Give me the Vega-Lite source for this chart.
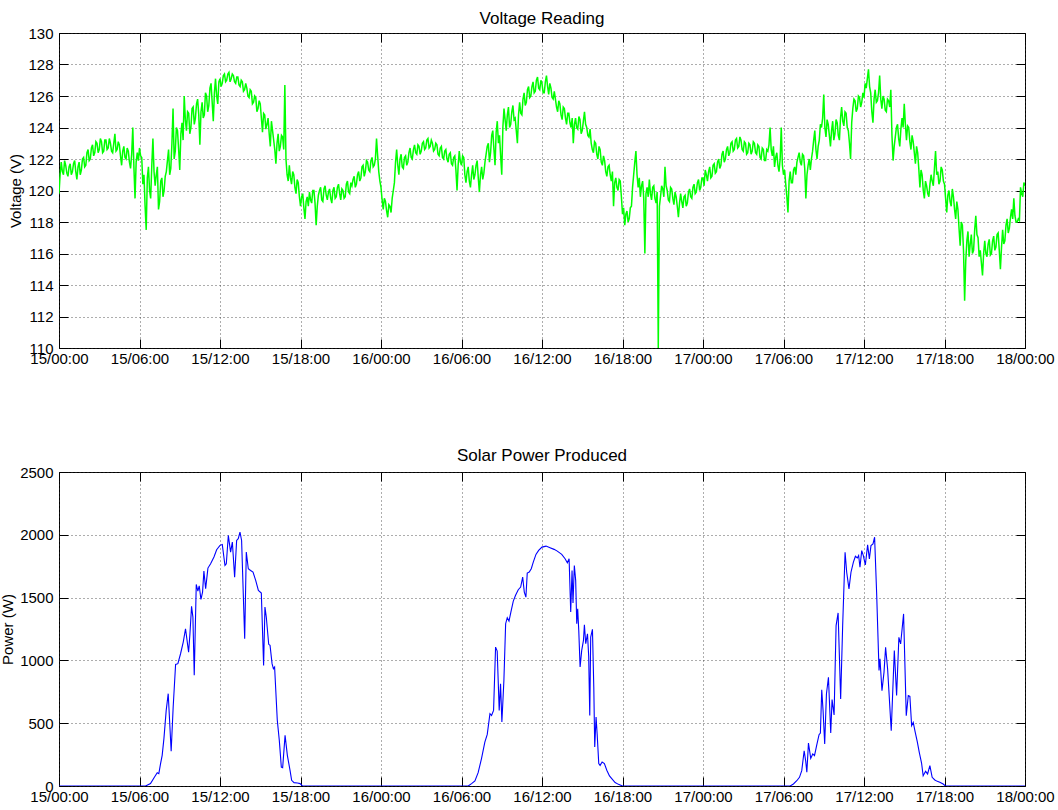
{
  "$schema": "https://vega.github.io/schema/vega-lite/v6.json",
  "padding": {"left": 0, "top": 9, "right": 5, "bottom": 0},
  "background": "white",
  "config": {
    "font": "Liberation Sans",
    "view": {"stroke": "black", "strokeWidth": 1},
    "axis": {
      "labelFont": "Liberation Sans", "labelFontSize": 15, "labelColor": "black",
      "titleFont": "Liberation Sans", "titleFontSize": 15, "titleFontWeight": "normal", "titleColor": "black",
      "domain": false, "tickColor": "black", "tickSize": -9, "tickWidth": 1,
      "gridColor": "#333333", "gridOpacity": 0.8, "gridDash": [1, 3], "gridWidth": 1
    },
    "title": {"font": "Liberation Sans", "fontSize": 17, "fontWeight": "normal", "color": "black"},
    "concat": {"spacing": 79}
  },
  "datasets": {
    "voltage": [
      {"hour":0,"volts":119.8},{"hour":0.083,"volts":121.0},{"hour":0.167,"volts":121.8},{"hour":0.25,"volts":121.2},{"hour":0.333,"volts":121.0},{"hour":0.417,"volts":121.9},{"hour":0.5,"volts":121.6},{"hour":0.583,"volts":121.1},{"hour":0.667,"volts":120.9},{"hour":0.75,"volts":121.5},{"hour":0.833,"volts":121.7},{"hour":0.917,"volts":121.0},
      {"hour":1,"volts":121.2},{"hour":1.083,"volts":121.7},{"hour":1.167,"volts":121.9},{"hour":1.25,"volts":121.2},{"hour":1.333,"volts":120.7},{"hour":1.417,"volts":121.5},{"hour":1.5,"volts":121.8},{"hour":1.583,"volts":121.0},{"hour":1.667,"volts":121.3},{"hour":1.75,"volts":122.0},{"hour":1.833,"volts":122.1},{"hour":1.917,"volts":121.5},
      {"hour":2,"volts":121.6},{"hour":2.083,"volts":122.4},{"hour":2.167,"volts":122.6},{"hour":2.25,"volts":121.9},{"hour":2.333,"volts":122.0},{"hour":2.417,"volts":122.7},{"hour":2.5,"volts":122.9},{"hour":2.583,"volts":122.2},{"hour":2.667,"volts":122.4},{"hour":2.75,"volts":123.1},{"hour":2.833,"volts":123.0},{"hour":2.917,"volts":122.4},
      {"hour":3,"volts":122.6},{"hour":3.083,"volts":123.3},{"hour":3.167,"volts":123.1},{"hour":3.25,"volts":122.4},{"hour":3.333,"volts":122.5},{"hour":3.417,"volts":123.2},{"hour":3.5,"volts":123.2},{"hour":3.583,"volts":122.6},{"hour":3.667,"volts":122.7},{"hour":3.75,"volts":123.3},{"hour":3.833,"volts":123.0},{"hour":3.917,"volts":122.5},
      {"hour":4,"volts":122.4},{"hour":4.083,"volts":123.0},{"hour":4.167,"volts":123.6},{"hour":4.25,"volts":122.5},{"hour":4.333,"volts":122.6},{"hour":4.417,"volts":123.1},{"hour":4.5,"volts":122.9},{"hour":4.583,"volts":122.2},{"hour":4.667,"volts":121.6},{"hour":4.75,"volts":122.5},{"hour":4.833,"volts":122.8},{"hour":4.917,"volts":122.1},
      {"hour":5,"volts":122.0},{"hour":5.083,"volts":122.7},{"hour":5.167,"volts":122.5},{"hour":5.25,"volts":121.8},{"hour":5.333,"volts":121.4},{"hour":5.417,"volts":122.3},{"hour":5.5,"volts":124.0},{"hour":5.583,"volts":121.5},{"hour":5.667,"volts":119.5},{"hour":5.75,"volts":121.8},{"hour":5.833,"volts":122.4},{"hour":5.917,"volts":121.9},
      {"hour":6,"volts":122.7},{"hour":6.083,"volts":122.2},{"hour":6.167,"volts":122.1},{"hour":6.25,"volts":120.4},{"hour":6.333,"volts":121.0},{"hour":6.417,"volts":119.0},{"hour":6.5,"volts":117.5},{"hour":6.583,"volts":120.8},{"hour":6.667,"volts":121.5},{"hour":6.75,"volts":120.0},{"hour":6.833,"volts":119.5},{"hour":6.917,"volts":121.6},
      {"hour":7,"volts":123.3},{"hour":7.083,"volts":121.2},{"hour":7.167,"volts":120.3},{"hour":7.25,"volts":121.0},{"hour":7.333,"volts":121.5},{"hour":7.417,"volts":118.8},{"hour":7.5,"volts":119.3},{"hour":7.583,"volts":120.6},{"hour":7.667,"volts":120.8},{"hour":7.75,"volts":119.6},{"hour":7.833,"volts":120.0},{"hour":7.917,"volts":120.9},
      {"hour":8,"volts":121.2},{"hour":8.083,"volts":121.9},{"hour":8.167,"volts":122.6},{"hour":8.25,"volts":121.0},{"hour":8.333,"volts":121.4},{"hour":8.417,"volts":123.0},{"hour":8.5,"volts":125.2},{"hour":8.583,"volts":122.0},{"hour":8.667,"volts":122.5},{"hour":8.75,"volts":124.0},{"hour":8.833,"volts":123.8},{"hour":8.917,"volts":122.6},
      {"hour":9,"volts":121.3},{"hour":9.083,"volts":123.6},{"hour":9.167,"volts":124.3},{"hour":9.25,"volts":123.2},{"hour":9.333,"volts":126.0},{"hour":9.417,"volts":124.5},{"hour":9.5,"volts":123.8},{"hour":9.583,"volts":125.0},{"hour":9.667,"volts":124.9},{"hour":9.75,"volts":123.6},{"hour":9.833,"volts":124.0},{"hour":9.917,"volts":125.2},
      {"hour":10,"volts":125.3},{"hour":10.083,"volts":124.2},{"hour":10.167,"volts":124.6},{"hour":10.25,"volts":125.5},{"hour":10.333,"volts":125.8},{"hour":10.417,"volts":124.8},{"hour":10.5,"volts":122.9},{"hour":10.583,"volts":125.0},{"hour":10.667,"volts":125.6},{"hour":10.75,"volts":124.6},{"hour":10.833,"volts":124.8},{"hour":10.917,"volts":126.2},
      {"hour":11,"volts":126.0},{"hour":11.083,"volts":125.0},{"hour":11.167,"volts":125.4},{"hour":11.25,"volts":126.5},{"hour":11.333,"volts":126.8},{"hour":11.417,"volts":125.6},{"hour":11.5,"volts":124.4},{"hour":11.583,"volts":126.2},{"hour":11.667,"volts":127.1},{"hour":11.75,"volts":126.0},{"hour":11.833,"volts":125.5},{"hour":11.917,"volts":126.9},
      {"hour":12,"volts":127.1},{"hour":12.083,"volts":126.6},{"hour":12.167,"volts":126.8},{"hour":12.25,"volts":127.3},{"hour":12.333,"volts":127.4},{"hour":12.417,"volts":126.9},{"hour":12.5,"volts":127.0},{"hour":12.583,"volts":127.4},{"hour":12.667,"volts":127.5},{"hour":12.75,"volts":126.9},{"hour":12.833,"volts":127.1},{"hour":12.917,"volts":127.4},
      {"hour":13,"volts":127.3},{"hour":13.083,"volts":126.9},{"hour":13.167,"volts":126.8},{"hour":13.25,"volts":127.2},{"hour":13.333,"volts":127.2},{"hour":13.417,"volts":126.7},{"hour":13.5,"volts":126.6},{"hour":13.583,"volts":127.0},{"hour":13.667,"volts":126.9},{"hour":13.75,"volts":126.3},{"hour":13.833,"volts":126.4},{"hour":13.917,"volts":126.8},
      {"hour":14,"volts":126.5},{"hour":14.083,"volts":126.0},{"hour":14.167,"volts":125.9},{"hour":14.25,"volts":126.4},{"hour":14.333,"volts":126.3},{"hour":14.417,"volts":125.5},{"hour":14.5,"volts":125.6},{"hour":14.583,"volts":126.0},{"hour":14.667,"volts":125.9},{"hour":14.75,"volts":125.0},{"hour":14.833,"volts":125.2},{"hour":14.917,"volts":125.7},
      {"hour":15,"volts":125.5},{"hour":15.083,"volts":124.6},{"hour":15.167,"volts":123.7},{"hour":15.25,"volts":124.9},{"hour":15.333,"volts":124.8},{"hour":15.417,"volts":123.9},{"hour":15.5,"volts":124.2},{"hour":15.583,"volts":124.6},{"hour":15.667,"volts":123.6},{"hour":15.75,"volts":122.8},{"hour":15.833,"volts":124.4},{"hour":15.917,"volts":123.8},
      {"hour":16,"volts":123.2},{"hour":16.083,"volts":122.6},{"hour":16.167,"volts":121.7},{"hour":16.25,"volts":123.0},{"hour":16.333,"volts":123.6},{"hour":16.417,"volts":122.5},{"hour":16.5,"volts":122.8},{"hour":16.583,"volts":123.5},{"hour":16.667,"volts":123.4},{"hour":16.75,"volts":122.6},{"hour":16.833,"volts":126.7},{"hour":16.917,"volts":122.0},
      {"hour":17,"volts":121.0},{"hour":17.083,"volts":120.6},{"hour":17.167,"volts":121.6},{"hour":17.25,"volts":120.8},{"hour":17.333,"volts":120.4},{"hour":17.417,"volts":121.2},{"hour":17.5,"volts":121.0},{"hour":17.583,"volts":120.2},{"hour":17.667,"volts":119.8},{"hour":17.75,"volts":120.7},{"hour":17.833,"volts":120.5},{"hour":17.917,"volts":119.6},
      {"hour":18,"volts":119.0},{"hour":18.083,"volts":119.6},{"hour":18.167,"volts":119.8},{"hour":18.25,"volts":118.9},{"hour":18.333,"volts":118.2},{"hour":18.417,"volts":119.3},{"hour":18.5,"volts":119.6},{"hour":18.583,"volts":119.0},{"hour":18.667,"volts":119.9},{"hour":18.75,"volts":119.4},{"hour":18.833,"volts":119.2},{"hour":18.917,"volts":120.0},
      {"hour":19,"volts":120.0},{"hour":19.083,"volts":119.2},{"hour":19.167,"volts":117.8},{"hour":19.25,"volts":119.0},{"hour":19.333,"volts":119.7},{"hour":19.417,"volts":120.0},{"hour":19.5,"volts":120.2},{"hour":19.583,"volts":119.4},{"hour":19.667,"volts":119.3},{"hour":19.75,"volts":120.1},{"hour":19.833,"volts":120.3},{"hour":19.917,"volts":119.7},
      {"hour":20,"volts":119.4},{"hour":20.083,"volts":119.9},{"hour":20.167,"volts":120.1},{"hour":20.25,"volts":119.5},{"hour":20.333,"volts":119.2},{"hour":20.417,"volts":120.0},{"hour":20.5,"volts":120.2},{"hour":20.583,"volts":119.5},{"hour":20.667,"volts":119.6},{"hour":20.75,"volts":120.2},{"hour":20.833,"volts":120.4},{"hour":20.917,"volts":119.8},
      {"hour":21,"volts":119.4},{"hour":21.083,"volts":120.1},{"hour":21.167,"volts":120.0},{"hour":21.25,"volts":119.5},{"hour":21.333,"volts":119.6},{"hour":21.417,"volts":120.4},{"hour":21.5,"volts":120.6},{"hour":21.583,"volts":119.9},{"hour":21.667,"volts":119.8},{"hour":21.75,"volts":120.5},{"hour":21.833,"volts":120.3},{"hour":21.917,"volts":120.7},
      {"hour":22,"volts":120.9},{"hour":22.083,"volts":120.2},{"hour":22.167,"volts":120.4},{"hour":22.25,"volts":121.0},{"hour":22.333,"volts":121.2},{"hour":22.417,"volts":120.6},{"hour":22.5,"volts":120.8},{"hour":22.583,"volts":121.5},{"hour":22.667,"volts":121.6},{"hour":22.75,"volts":120.9},{"hour":22.833,"volts":121.2},{"hour":22.917,"volts":121.9},
      {"hour":23,"volts":121.8},{"hour":23.083,"volts":121.3},{"hour":23.167,"volts":121.2},{"hour":23.25,"volts":121.9},{"hour":23.333,"volts":122.1},{"hour":23.417,"volts":121.5},{"hour":23.5,"volts":121.6},{"hour":23.583,"volts":122.0},{"hour":23.667,"volts":123.3},{"hour":23.75,"volts":122.2},{"hour":23.833,"volts":121.2},{"hour":23.917,"volts":120.6},
      {"hour":24,"volts":120.2},{"hour":24.083,"volts":119.4},{"hour":24.167,"volts":118.8},{"hour":24.25,"volts":119.5},{"hour":24.333,"volts":119.3},{"hour":24.417,"volts":118.7},{"hour":24.5,"volts":118.3},{"hour":24.583,"volts":119.1},{"hour":24.667,"volts":119.0},{"hour":24.75,"volts":118.6},{"hour":24.833,"volts":119.5},{"hour":24.917,"volts":120.0},
      {"hour":25,"volts":120.5},{"hour":25.083,"volts":121.8},{"hour":25.167,"volts":122.6},{"hour":25.25,"volts":121.6},{"hour":25.333,"volts":121.0},{"hour":25.417,"volts":122.0},{"hour":25.5,"volts":122.3},{"hour":25.583,"volts":121.5},{"hour":25.667,"volts":121.4},{"hour":25.75,"volts":122.1},{"hour":25.833,"volts":122.2},{"hour":25.917,"volts":121.6},
      {"hour":26,"volts":121.8},{"hour":26.083,"volts":122.4},{"hour":26.167,"volts":122.7},{"hour":26.25,"volts":122.1},{"hour":26.333,"volts":122.0},{"hour":26.417,"volts":122.6},{"hour":26.5,"volts":122.9},{"hour":26.583,"volts":122.4},{"hour":26.667,"volts":122.3},{"hour":26.75,"volts":122.9},{"hour":26.833,"volts":122.8},{"hour":26.917,"volts":122.3},
      {"hour":27,"volts":122.5},{"hour":27.083,"volts":123.0},{"hour":27.167,"volts":123.1},{"hour":27.25,"volts":122.6},{"hour":27.333,"volts":122.7},{"hour":27.417,"volts":123.2},{"hour":27.5,"volts":123.3},{"hour":27.583,"volts":122.7},{"hour":27.667,"volts":122.8},{"hour":27.75,"volts":123.2},{"hour":27.833,"volts":123.0},{"hour":27.917,"volts":122.5},
      {"hour":28,"volts":122.6},{"hour":28.083,"volts":123.0},{"hour":28.167,"volts":122.9},{"hour":28.25,"volts":122.3},{"hour":28.333,"volts":122.2},{"hour":28.417,"volts":122.7},{"hour":28.5,"volts":122.8},{"hour":28.583,"volts":122.1},{"hour":28.667,"volts":122.0},{"hour":28.75,"volts":122.5},{"hour":28.833,"volts":122.6},{"hour":28.917,"volts":122.0},
      {"hour":29,"volts":121.8},{"hour":29.083,"volts":122.3},{"hour":29.167,"volts":122.4},{"hour":29.25,"volts":121.7},{"hour":29.333,"volts":121.6},{"hour":29.417,"volts":122.1},{"hour":29.5,"volts":122.2},{"hour":29.583,"volts":121.3},{"hour":29.667,"volts":120.0},{"hour":29.75,"volts":121.6},{"hour":29.833,"volts":122.5},{"hour":29.917,"volts":121.8},
      {"hour":30,"volts":121.6},{"hour":30.083,"volts":122.2},{"hour":30.167,"volts":122.1},{"hour":30.25,"volts":121.0},{"hour":30.333,"volts":120.5},{"hour":30.417,"volts":121.2},{"hour":30.5,"volts":121.5},{"hour":30.583,"volts":120.6},{"hour":30.667,"volts":120.2},{"hour":30.75,"volts":121.0},{"hour":30.833,"volts":121.6},{"hour":30.917,"volts":120.7},
      {"hour":31,"volts":121.0},{"hour":31.083,"volts":121.6},{"hour":31.167,"volts":121.9},{"hour":31.25,"volts":120.8},{"hour":31.333,"volts":119.9},{"hour":31.417,"volts":121.0},{"hour":31.5,"volts":121.5},{"hour":31.583,"volts":120.7},{"hour":31.667,"volts":121.1},{"hour":31.75,"volts":121.8},{"hour":31.833,"volts":122.3},{"hour":31.917,"volts":122.8},
      {"hour":32,"volts":123.0},{"hour":32.083,"volts":121.8},{"hour":32.167,"volts":122.4},{"hour":32.25,"volts":123.5},{"hour":32.333,"volts":123.8},{"hour":32.417,"volts":122.6},{"hour":32.5,"volts":121.6},{"hour":32.583,"volts":123.7},{"hour":32.667,"volts":124.4},{"hour":32.75,"volts":123.0},{"hour":32.833,"volts":123.5},{"hour":32.917,"volts":122.2},
      {"hour":33,"volts":121.0},{"hour":33.083,"volts":124.0},{"hour":33.167,"volts":125.2},{"hour":33.25,"volts":124.5},{"hour":33.333,"volts":123.8},{"hour":33.417,"volts":124.8},{"hour":33.5,"volts":125.3},{"hour":33.583,"volts":124.0},{"hour":33.667,"volts":124.2},{"hour":33.75,"volts":125.0},{"hour":33.833,"volts":125.4},{"hour":33.917,"volts":124.5},
      {"hour":34,"volts":124.6},{"hour":34.083,"volts":123.8},{"hour":34.167,"volts":123.0},{"hour":34.25,"volts":124.8},{"hour":34.333,"volts":125.6},{"hour":34.417,"volts":124.9},{"hour":34.5,"volts":124.8},{"hour":34.583,"volts":125.8},{"hour":34.667,"volts":126.2},{"hour":34.75,"volts":125.4},{"hour":34.833,"volts":125.6},{"hour":34.917,"volts":126.4},
      {"hour":35,"volts":126.6},{"hour":35.083,"volts":125.9},{"hour":35.167,"volts":126.0},{"hour":35.25,"volts":126.6},{"hour":35.333,"volts":126.9},{"hour":35.417,"volts":126.2},{"hour":35.5,"volts":126.3},{"hour":35.583,"volts":127.0},{"hour":35.667,"volts":127.2},{"hour":35.75,"volts":126.5},{"hour":35.833,"volts":126.4},{"hour":35.917,"volts":127.0},
      {"hour":36,"volts":126.8},{"hour":36.083,"volts":126.2},{"hour":36.167,"volts":126.2},{"hour":36.25,"volts":126.9},{"hour":36.333,"volts":127.3},{"hour":36.417,"volts":126.6},{"hour":36.5,"volts":126.1},{"hour":36.583,"volts":126.8},{"hour":36.667,"volts":126.5},{"hour":36.75,"volts":125.9},{"hour":36.833,"volts":125.8},{"hour":36.917,"volts":126.3},
      {"hour":37,"volts":125.8},{"hour":37.083,"volts":125.3},{"hour":37.167,"volts":125.0},{"hour":37.25,"volts":125.7},{"hour":37.333,"volts":125.5},{"hour":37.417,"volts":124.8},{"hour":37.5,"volts":124.5},{"hour":37.583,"volts":125.3},{"hour":37.667,"volts":125.2},{"hour":37.75,"volts":124.6},{"hour":37.833,"volts":124.2},{"hour":37.917,"volts":124.9},
      {"hour":38,"volts":124.9},{"hour":38.083,"volts":124.3},{"hour":38.167,"volts":124.0},{"hour":38.25,"volts":124.6},{"hour":38.333,"volts":123.0},{"hour":38.417,"volts":124.2},{"hour":38.5,"volts":124.6},{"hour":38.583,"volts":124.0},{"hour":38.667,"volts":123.9},{"hour":38.75,"volts":124.7},{"hour":38.833,"volts":124.5},{"hour":38.917,"volts":123.6},
      {"hour":39,"volts":123.8},{"hour":39.083,"volts":124.4},{"hour":39.167,"volts":125.0},{"hour":39.25,"volts":124.2},{"hour":39.333,"volts":124.0},{"hour":39.417,"volts":123.5},{"hour":39.5,"volts":123.4},{"hour":39.583,"volts":123.9},{"hour":39.667,"volts":123.0},{"hour":39.75,"volts":122.6},{"hour":39.833,"volts":122.4},{"hour":39.917,"volts":123.1},
      {"hour":40,"volts":123.0},{"hour":40.083,"volts":122.3},{"hour":40.167,"volts":122.0},{"hour":40.25,"volts":122.8},{"hour":40.333,"volts":122.6},{"hour":40.417,"volts":121.8},{"hour":40.5,"volts":121.6},{"hour":40.583,"volts":122.2},{"hour":40.667,"volts":121.9},{"hour":40.75,"volts":121.2},{"hour":40.833,"volts":120.9},{"hour":40.917,"volts":121.5},
      {"hour":41,"volts":121.6},{"hour":41.083,"volts":121.0},{"hour":41.167,"volts":120.6},{"hour":41.25,"volts":121.2},{"hour":41.333,"volts":119.0},{"hour":41.417,"volts":120.5},{"hour":41.5,"volts":120.8},{"hour":41.583,"volts":120.2},{"hour":41.667,"volts":120.0},{"hour":41.75,"volts":120.7},{"hour":41.833,"volts":120.6},{"hour":41.917,"volts":119.6},
      {"hour":42,"volts":118.5},{"hour":42.083,"volts":118.9},{"hour":42.167,"volts":117.8},{"hour":42.25,"volts":118.5},{"hour":42.333,"volts":118.7},{"hour":42.417,"volts":118.0},{"hour":42.5,"volts":118.2},{"hour":42.583,"volts":118.9},{"hour":42.667,"volts":119.0},{"hour":42.75,"volts":120.2},{"hour":42.833,"volts":121.0},{"hour":42.917,"volts":121.8},
      {"hour":43,"volts":122.5},{"hour":43.083,"volts":121.0},{"hour":43.167,"volts":120.2},{"hour":43.25,"volts":120.8},{"hour":43.333,"volts":119.6},{"hour":43.417,"volts":120.3},{"hour":43.5,"volts":120.6},{"hour":43.583,"volts":119.5},{"hour":43.667,"volts":116.0},{"hour":43.75,"volts":119.8},{"hour":43.833,"volts":120.2},{"hour":43.917,"volts":119.6},
      {"hour":44,"volts":120.7},{"hour":44.083,"volts":119.8},{"hour":44.167,"volts":119.4},{"hour":44.25,"volts":120.2},{"hour":44.333,"volts":120.3},{"hour":44.417,"volts":119.5},{"hour":44.5,"volts":119.2},{"hour":44.583,"volts":119.9},{"hour":44.667,"volts":110.0},{"hour":44.75,"volts":119.0},{"hour":44.833,"volts":119.6},{"hour":44.917,"volts":120.3},
      {"hour":45,"volts":120.1},{"hour":45.083,"volts":119.6},{"hour":45.167,"volts":121.5},{"hour":45.25,"volts":120.3},{"hour":45.333,"volts":120.0},{"hour":45.417,"volts":119.4},{"hour":45.5,"volts":119.3},{"hour":45.583,"volts":120.2},{"hour":45.667,"volts":120.1},{"hour":45.75,"volts":119.5},{"hour":45.833,"volts":119.1},{"hour":45.917,"volts":119.9},
      {"hour":46,"volts":119.6},{"hour":46.083,"volts":119.0},{"hour":46.167,"volts":118.3},{"hour":46.25,"volts":119.2},{"hour":46.333,"volts":119.8},{"hour":46.417,"volts":119.3},{"hour":46.5,"volts":118.9},{"hour":46.583,"volts":119.6},{"hour":46.667,"volts":119.7},{"hour":46.75,"volts":119.0},{"hour":46.833,"volts":119.2},{"hour":46.917,"volts":119.9},
      {"hour":47,"volts":120.1},{"hour":47.083,"volts":119.6},{"hour":47.167,"volts":119.5},{"hour":47.25,"volts":120.2},{"hour":47.333,"volts":120.4},{"hour":47.417,"volts":119.8},{"hour":47.5,"volts":119.9},{"hour":47.583,"volts":120.5},{"hour":47.667,"volts":120.7},{"hour":47.75,"volts":120.0},{"hour":47.833,"volts":120.2},{"hour":47.917,"volts":120.8},
      {"hour":48,"volts":120.8},{"hour":48.083,"volts":120.3},{"hour":48.167,"volts":121.3},{"hour":48.25,"volts":121.0},{"hour":48.333,"volts":120.6},{"hour":48.417,"volts":121.2},{"hour":48.5,"volts":121.5},{"hour":48.583,"volts":120.8},{"hour":48.667,"volts":120.9},{"hour":48.75,"volts":121.6},{"hour":48.833,"volts":121.7},{"hour":48.917,"volts":121.1},
      {"hour":49,"volts":121.2},{"hour":49.083,"volts":121.8},{"hour":49.167,"volts":122.0},{"hour":49.25,"volts":121.4},{"hour":49.333,"volts":121.6},{"hour":49.417,"volts":122.3},{"hour":49.5,"volts":122.5},{"hour":49.583,"volts":121.8},{"hour":49.667,"volts":122.0},{"hour":49.75,"volts":122.6},{"hour":49.833,"volts":122.8},{"hour":49.917,"volts":122.2},
      {"hour":50,"volts":122.4},{"hour":50.083,"volts":123.0},{"hour":50.167,"volts":123.1},{"hour":50.25,"volts":122.5},{"hour":50.333,"volts":122.6},{"hour":50.417,"volts":123.2},{"hour":50.5,"volts":123.3},{"hour":50.583,"volts":122.7},{"hour":50.667,"volts":122.8},{"hour":50.75,"volts":123.4},{"hour":50.833,"volts":123.2},{"hour":50.917,"volts":122.6},
      {"hour":51,"volts":122.5},{"hour":51.083,"volts":123.1},{"hour":51.167,"volts":123.0},{"hour":51.25,"volts":122.3},{"hour":51.333,"volts":122.4},{"hour":51.417,"volts":123.0},{"hour":51.5,"volts":122.9},{"hour":51.583,"volts":122.3},{"hour":51.667,"volts":122.5},{"hour":51.75,"volts":123.1},{"hour":51.833,"volts":123.0},{"hour":51.917,"volts":122.4},
      {"hour":52,"volts":122.3},{"hour":52.083,"volts":122.9},{"hour":52.167,"volts":122.8},{"hour":52.25,"volts":122.1},{"hour":52.333,"volts":122.0},{"hour":52.417,"volts":122.7},{"hour":52.5,"volts":122.6},{"hour":52.583,"volts":121.9},{"hour":52.667,"volts":121.9},{"hour":52.75,"volts":122.6},{"hour":52.833,"volts":122.5},{"hour":52.917,"volts":122.9},
      {"hour":53,"volts":124.0},{"hour":53.083,"volts":122.6},{"hour":53.167,"volts":122.2},{"hour":53.25,"volts":122.8},{"hour":53.333,"volts":121.5},{"hour":53.417,"volts":122.1},{"hour":53.5,"volts":122.4},{"hour":53.583,"volts":121.6},{"hour":53.667,"volts":121.2},{"hour":53.75,"volts":122.0},{"hour":53.833,"volts":124.0},{"hour":53.917,"volts":121.6},
      {"hour":54,"volts":121.0},{"hour":54.083,"volts":121.3},{"hour":54.167,"volts":120.4},{"hour":54.25,"volts":119.6},{"hour":54.333,"volts":118.6},{"hour":54.417,"volts":120.6},{"hour":54.5,"volts":121.2},{"hour":54.583,"volts":120.5},{"hour":54.667,"volts":120.5},{"hour":54.75,"volts":121.3},{"hour":54.833,"volts":121.5},{"hour":54.917,"volts":121.0},
      {"hour":55,"volts":121.8},{"hour":55.083,"volts":122.1},{"hour":55.167,"volts":122.4},{"hour":55.25,"volts":121.8},{"hour":55.333,"volts":121.6},{"hour":55.417,"volts":122.3},{"hour":55.5,"volts":122.2},{"hour":55.583,"volts":121.4},{"hour":55.667,"volts":119.5},{"hour":55.75,"volts":121.0},{"hour":55.833,"volts":121.6},{"hour":55.917,"volts":122.0},
      {"hour":56,"volts":121.3},{"hour":56.083,"volts":122.0},{"hour":56.167,"volts":122.5},{"hour":56.25,"volts":123.2},{"hour":56.333,"volts":123.8},{"hour":56.417,"volts":122.6},{"hour":56.5,"volts":122.0},{"hour":56.583,"volts":122.8},{"hour":56.667,"volts":123.2},{"hour":56.75,"volts":124.2},{"hour":56.833,"volts":124.0},{"hour":56.917,"volts":124.6},
      {"hour":57,"volts":126.1},{"hour":57.083,"volts":124.0},{"hour":57.167,"volts":123.4},{"hour":57.25,"volts":124.5},{"hour":57.333,"volts":124.2},{"hour":57.417,"volts":123.5},{"hour":57.5,"volts":122.8},{"hour":57.583,"volts":123.8},{"hour":57.667,"volts":124.4},{"hour":57.75,"volts":123.2},{"hour":57.833,"volts":123.6},{"hour":57.917,"volts":124.5},
      {"hour":58,"volts":124.3},{"hour":58.083,"volts":123.5},{"hour":58.167,"volts":123.2},{"hour":58.25,"volts":124.6},{"hour":58.333,"volts":125.3},{"hour":58.417,"volts":124.4},{"hour":58.5,"volts":124.1},{"hour":58.583,"volts":125.0},{"hour":58.667,"volts":124.9},{"hour":58.75,"volts":124.0},{"hour":58.833,"volts":123.8},{"hour":58.917,"volts":123.0},
      {"hour":59,"volts":122.0},{"hour":59.083,"volts":124.3},{"hour":59.167,"volts":125.2},{"hour":59.25,"volts":125.8},{"hour":59.333,"volts":125.7},{"hour":59.417,"volts":125.0},{"hour":59.5,"volts":125.2},{"hour":59.583,"volts":126.0},{"hour":59.667,"volts":125.9},{"hour":59.75,"volts":125.3},{"hour":59.833,"volts":125.6},{"hour":59.917,"volts":126.2},
      {"hour":60,"volts":125.9},{"hour":60.083,"volts":126.8},{"hour":60.167,"volts":126.5},{"hour":60.25,"volts":127.1},{"hour":60.333,"volts":127.7},{"hour":60.417,"volts":126.6},{"hour":60.5,"volts":126.2},{"hour":60.583,"volts":125.0},{"hour":60.667,"volts":124.3},{"hour":60.75,"volts":125.8},{"hour":60.833,"volts":126.4},{"hour":60.917,"volts":125.6},
      {"hour":61,"volts":125.7},{"hour":61.083,"volts":126.2},{"hour":61.167,"volts":127.3},{"hour":61.25,"volts":125.8},{"hour":61.333,"volts":125.2},{"hour":61.417,"volts":126.0},{"hour":61.5,"volts":125.8},{"hour":61.583,"volts":125.1},{"hour":61.667,"volts":125.0},{"hour":61.75,"volts":125.8},{"hour":61.833,"volts":125.7},{"hour":61.917,"volts":125.3},
      {"hour":62,"volts":126.4},{"hour":62.083,"volts":123.5},{"hour":62.167,"volts":121.9},{"hour":62.25,"volts":122.8},{"hour":62.333,"volts":123.4},{"hour":62.417,"volts":124.0},{"hour":62.5,"volts":124.2},{"hour":62.583,"volts":123.3},{"hour":62.667,"volts":122.8},{"hour":62.75,"volts":123.9},{"hour":62.833,"volts":124.6},{"hour":62.917,"volts":124.0},
      {"hour":63,"volts":125.5},{"hour":63.083,"volts":124.2},{"hour":63.167,"volts":123.2},{"hour":63.25,"volts":124.1},{"hour":63.333,"volts":124.0},{"hour":63.417,"volts":123.1},{"hour":63.5,"volts":122.6},{"hour":63.583,"volts":123.5},{"hour":63.667,"volts":123.1},{"hour":63.75,"volts":122.4},{"hour":63.833,"volts":121.7},{"hour":63.917,"volts":122.8},
      {"hour":64,"volts":122.4},{"hour":64.083,"volts":121.4},{"hour":64.167,"volts":120.2},{"hour":64.25,"volts":121.3},{"hour":64.333,"volts":121.0},{"hour":64.417,"volts":120.0},{"hour":64.5,"volts":119.5},{"hour":64.583,"volts":120.6},{"hour":64.667,"volts":120.3},{"hour":64.75,"volts":119.8},{"hour":64.833,"volts":119.6},{"hour":64.917,"volts":120.4},
      {"hour":65,"volts":121.0},{"hour":65.083,"volts":120.6},{"hour":65.167,"volts":120.3},{"hour":65.25,"volts":121.4},{"hour":65.333,"volts":122.5},{"hour":65.417,"volts":121.0},{"hour":65.5,"volts":121.2},{"hour":65.583,"volts":120.4},{"hour":65.667,"volts":120.6},{"hour":65.75,"volts":121.5},{"hour":65.833,"volts":121.3},{"hour":65.917,"volts":120.6},
      {"hour":66,"volts":120.4},{"hour":66.083,"volts":119.5},{"hour":66.167,"volts":118.6},{"hour":66.25,"volts":119.7},{"hour":66.333,"volts":120.0},{"hour":66.417,"volts":119.3},{"hour":66.5,"volts":119.0},{"hour":66.583,"volts":120.1},{"hour":66.667,"volts":119.6},{"hour":66.75,"volts":118.8},{"hour":66.833,"volts":118.2},{"hour":66.917,"volts":119.3},
      {"hour":67,"volts":118.8},{"hour":67.083,"volts":117.6},{"hour":67.167,"volts":116.5},{"hour":67.25,"volts":118.0},{"hour":67.333,"volts":117.8},{"hour":67.417,"volts":116.2},{"hour":67.5,"volts":113.0},{"hour":67.583,"volts":115.5},{"hour":67.667,"volts":116.8},{"hour":67.75,"volts":117.4},{"hour":67.833,"volts":115.8},{"hour":67.917,"volts":116.6},
      {"hour":68,"volts":117.2},{"hour":68.083,"volts":116.0},{"hour":68.167,"volts":116.2},{"hour":68.25,"volts":117.5},{"hour":68.333,"volts":118.4},{"hour":68.417,"volts":117.2},{"hour":68.5,"volts":117.0},{"hour":68.583,"volts":115.8},{"hour":68.667,"volts":116.2},{"hour":68.75,"volts":115.4},{"hour":68.833,"volts":114.6},{"hour":68.917,"volts":116.0},
      {"hour":69,"volts":116.8},{"hour":69.083,"volts":116.0},{"hour":69.167,"volts":115.8},{"hour":69.25,"volts":116.6},{"hour":69.333,"volts":116.9},{"hour":69.417,"volts":115.9},{"hour":69.5,"volts":116.0},{"hour":69.583,"volts":116.8},{"hour":69.667,"volts":117.1},{"hour":69.75,"volts":116.2},{"hour":69.833,"volts":116.4},{"hour":69.917,"volts":117.2},
      {"hour":70,"volts":117.3},{"hour":70.083,"volts":116.2},{"hour":70.167,"volts":115.0},{"hour":70.25,"volts":116.4},{"hour":70.333,"volts":117.5},{"hour":70.417,"volts":116.6},{"hour":70.5,"volts":116.8},{"hour":70.583,"volts":117.8},{"hour":70.667,"volts":118.2},{"hour":70.75,"volts":117.3},{"hour":70.833,"volts":117.6},{"hour":70.917,"volts":118.3},
      {"hour":71,"volts":118.8},{"hour":71.083,"volts":118.2},{"hour":71.167,"volts":119.5},{"hour":71.25,"volts":118.4},{"hour":71.333,"volts":118.0},{"hour":71.417,"volts":118.0},{"hour":71.5,"volts":118.2},{"hour":71.583,"volts":118.1},{"hour":71.667,"volts":120.2},{"hour":71.75,"volts":119.8},{"hour":71.833,"volts":119.6},{"hour":71.917,"volts":120.5},
      {"hour":72,"volts":120.3}
    ],
    "power": [
      {"hour":0,"watts":0},{"hour":6.45,"watts":0},{"hour":6.82,"watts":19},{"hour":7.12,"watts":72},{"hour":7.32,"watts":106},{"hour":7.44,"watts":98},
      {"hour":7.57,"watts":178},{"hour":7.69,"watts":244},{"hour":7.82,"watts":377},{"hour":7.99,"watts":602},{"hour":8.14,"watts":735},{"hour":8.36,"watts":276},
      {"hour":8.51,"watts":629},{"hour":8.69,"watts":968},{"hour":8.86,"watts":974},{"hour":9.06,"watts":1053},{"hour":9.26,"watts":1146},{"hour":9.43,"watts":1252},
      {"hour":9.66,"watts":1066},{"hour":9.76,"watts":1212},{"hour":9.88,"watts":1430},{"hour":9.98,"watts":1345},{"hour":10.08,"watts":881},{"hour":10.23,"watts":1605},
      {"hour":10.35,"watts":1552},{"hour":10.45,"watts":1594},{"hour":10.58,"watts":1486},{"hour":10.7,"watts":1544},{"hour":10.8,"watts":1711},{"hour":10.93,"watts":1571},
      {"hour":11.1,"watts":1735},{"hour":11.3,"watts":1770},{"hour":11.55,"watts":1823},{"hour":11.75,"watts":1881},{"hour":12.0,"watts":1916},{"hour":12.17,"watts":1923},
      {"hour":12.37,"watts":1756},{"hour":12.47,"watts":1770},{"hour":12.62,"watts":1995},{"hour":12.79,"watts":1862},{"hour":12.92,"watts":1942},{"hour":13.09,"watts":1663},
      {"hour":13.24,"watts":1955},{"hour":13.36,"watts":1969},{"hour":13.49,"watts":2022},{"hour":13.61,"watts":1955},{"hour":13.84,"watts":1173},{"hour":13.96,"watts":1862},
      {"hour":14.11,"watts":1730},{"hour":14.28,"watts":1716},{"hour":14.46,"watts":1703},{"hour":14.66,"watts":1637},{"hour":14.86,"watts":1557},{"hour":15.08,"watts":1536},
      {"hour":15.25,"watts":960},{"hour":15.35,"watts":1425},{"hour":15.45,"watts":1345},{"hour":15.63,"watts":1128},{"hour":15.73,"watts":1120},{"hour":15.88,"watts":974},
      {"hour":15.98,"watts":934},{"hour":16.07,"watts":947},{"hour":16.27,"watts":523},{"hour":16.42,"watts":363},{"hour":16.57,"watts":151},{"hour":16.67,"watts":146},
      {"hour":16.85,"watts":403},{"hour":17.02,"watts":244},{"hour":17.22,"watts":125},{"hour":17.34,"watts":45},{"hour":17.52,"watts":27},{"hour":17.77,"watts":24},
      {"hour":17.97,"watts":19},{"hour":18.14,"watts":0},{"hour":24,"watts":0},{"hour":30.5,"watts":0},
      {"hour":30.75,"watts":19},{"hour":31.0,"watts":40},{"hour":31.24,"watts":106},{"hour":31.49,"watts":218},{"hour":31.74,"watts":350},{"hour":31.92,"watts":411},
      {"hour":32.12,"watts":576},{"hour":32.24,"watts":562},{"hour":32.39,"watts":602},{"hour":32.54,"watts":1106},{"hour":32.66,"watts":1074},{"hour":32.81,"watts":602},
      {"hour":32.91,"watts":814},{"hour":33.01,"watts":509},{"hour":33.16,"watts":841},{"hour":33.29,"watts":1292},{"hour":33.41,"watts":1340},{"hour":33.54,"watts":1313},
      {"hour":33.68,"watts":1385},{"hour":33.86,"watts":1472},{"hour":34.03,"watts":1518},{"hour":34.23,"watts":1563},{"hour":34.41,"watts":1584},{"hour":34.56,"watts":1663},
      {"hour":34.68,"watts":1544},{"hour":34.8,"watts":1504},{"hour":34.9,"watts":1695},{"hour":35.05,"watts":1703},{"hour":35.2,"watts":1730},{"hour":35.35,"watts":1783},
      {"hour":35.55,"watts":1844},{"hour":35.75,"watts":1876},{"hour":36.0,"watts":1902},{"hour":36.3,"watts":1910},{"hour":36.6,"watts":1897},{"hour":36.9,"watts":1884},
      {"hour":37.14,"watts":1870},{"hour":37.47,"watts":1844},{"hour":37.72,"watts":1809},{"hour":37.89,"watts":1778},{"hour":38.02,"watts":1809},{"hour":38.14,"watts":1385},
      {"hour":38.24,"watts":1716},{"hour":38.31,"watts":1457},{"hour":38.41,"watts":1756},{"hour":38.51,"watts":1637},{"hour":38.59,"watts":1292},{"hour":38.66,"watts":1411},
      {"hour":38.74,"watts":1239},{"hour":38.84,"watts":947},{"hour":38.96,"watts":1080},{"hour":39.09,"watts":1159},{"hour":39.16,"watts":1284},{"hour":39.26,"watts":1133},
      {"hour":39.39,"watts":1212},{"hour":39.48,"watts":1032},{"hour":39.56,"watts":562},{"hour":39.63,"watts":1186},{"hour":39.76,"watts":1247},{"hour":39.86,"watts":788},
      {"hour":39.93,"watts":310},{"hour":40.03,"watts":549},{"hour":40.11,"watts":416},{"hour":40.23,"watts":178},{"hour":40.33,"watts":164},{"hour":40.48,"watts":191},
      {"hour":40.65,"watts":178},{"hour":40.83,"watts":125},{"hour":41.03,"watts":80},{"hour":41.2,"watts":58},{"hour":41.45,"watts":27},{"hour":41.7,"watts":13},
      {"hour":42.0,"watts":0},{"hour":48,"watts":0},{"hour":54.5,"watts":0},
      {"hour":54.74,"watts":16},{"hour":54.99,"watts":42},{"hour":55.19,"watts":69},{"hour":55.36,"watts":122},{"hour":55.54,"watts":281},{"hour":55.66,"watts":194},
      {"hour":55.74,"watts":109},{"hour":55.86,"watts":342},{"hour":56.03,"watts":220},{"hour":56.18,"watts":255},{"hour":56.31,"watts":242},{"hour":56.48,"watts":327},
      {"hour":56.65,"watts":409},{"hour":56.75,"watts":422},{"hour":56.85,"watts":767},{"hour":56.95,"watts":600},{"hour":57.07,"watts":335},{"hour":57.2,"watts":733},
      {"hour":57.35,"watts":866},{"hour":57.52,"watts":422},{"hour":57.62,"watts":688},{"hour":57.77,"watts":566},{"hour":57.92,"watts":1277},{"hour":58.07,"watts":1378},
      {"hour":58.26,"watts":693},{"hour":58.41,"watts":1277},{"hour":58.59,"watts":1861},{"hour":58.71,"watts":1702},{"hour":58.88,"watts":1569},{"hour":59.03,"watts":1702},
      {"hour":59.21,"watts":1782},{"hour":59.36,"watts":1829},{"hour":59.5,"watts":1816},{"hour":59.6,"watts":1835},{"hour":59.7,"watts":1742},{"hour":59.83,"watts":1874},
      {"hour":59.95,"watts":1835},{"hour":60.1,"watts":1760},{"hour":60.27,"watts":1920},{"hour":60.4,"watts":1808},{"hour":60.52,"watts":1914},{"hour":60.67,"watts":1928},
      {"hour":60.79,"watts":1981},{"hour":60.94,"watts":1543},{"hour":61.12,"watts":919},{"hour":61.19,"watts":1012},{"hour":61.34,"watts":759},{"hour":61.49,"watts":905},
      {"hour":61.61,"watts":1104},{"hour":61.76,"watts":932},{"hour":62.03,"watts":441},{"hour":62.26,"watts":1078},{"hour":62.43,"watts":720},{"hour":62.6,"watts":1184},
      {"hour":62.73,"watts":1131},{"hour":62.95,"watts":1370},{"hour":63.15,"watts":560},{"hour":63.3,"watts":720},{"hour":63.42,"watts":714},{"hour":63.55,"watts":481},
      {"hour":63.67,"watts":507},{"hour":63.82,"watts":427},{"hour":63.97,"watts":353},{"hour":64.12,"watts":268},{"hour":64.29,"watts":183},{"hour":64.41,"watts":82},
      {"hour":64.59,"watts":117},{"hour":64.74,"watts":96},{"hour":64.91,"watts":162},{"hour":65.08,"watts":69},{"hour":65.28,"watts":48},{"hour":65.46,"watts":37},
      {"hour":65.65,"watts":29},{"hour":65.9,"watts":16},{"hour":66.07,"watts":0},{"hour":72,"watts":0}
    ]
  },
  "vconcat": [
    {
      "width": 966,
      "height": 315,
      "title": {"text": "Voltage Reading", "offset": -2},
      "data": {"name": "voltage"},
      "layer": [
        {
          "mark": {"type": "line", "color": "#00ff00", "strokeWidth": 1.5, "clip": true},
          "encoding": {
            "x": {
              "field": "hour", "type": "quantitative",
              "scale": {"domain": [0, 72], "nice": false, "zero": false},
              "axis": {
                "orient": "bottom", "title": null,
                "values": [0, 6, 12, 18, 24, 30, 36, 42, 48, 54, 60, 66, 72],
                "labelExpr": "format(15 + floor(datum.value / 24), 'd') + '/' + format(datum.value % 24, '02d') + ':00'",
                "labelPadding": 12, "labelFlush": false, "labelOverlap": false
              }
            },
            "y": {
              "field": "volts", "type": "quantitative",
              "scale": {"domain": [110, 130], "nice": false, "zero": false},
              "axis": {
                "title": "Voltage (V)", "format": "d",
                "values": [110, 112, 114, 116, 118, 120, 122, 124, 126, 128, 130],
                "labelPadding": 15, "titlePadding": 4, "labelOverlap": false
              }
            }
          }
        },
        {
          "mark": {"type": "line", "opacity": 0},
          "encoding": {
            "x": {
              "field": "hour", "type": "quantitative",
              "axis": {"orient": "top", "title": null, "labels": false, "grid": false,
                       "values": [0, 6, 12, 18, 24, 30, 36, 42, 48, 54, 60, 66, 72]}
            },
            "y": {
              "field": "volts", "type": "quantitative",
              "axis": {"orient": "right", "title": null, "labels": false, "grid": false,
                       "values": [110, 112, 114, 116, 118, 120, 122, 124, 126, 128, 130]}
            }
          }
        }
      ],
      "resolve": {"axis": {"x": "independent", "y": "independent"}}
    },
    {
      "width": 966,
      "height": 314,
      "title": {"text": "Solar Power Produced", "offset": 0},
      "data": {"name": "power"},
      "layer": [
        {
          "mark": {"type": "line", "color": "#0000ff", "strokeWidth": 1.1, "clip": true},
          "encoding": {
            "x": {
              "field": "hour", "type": "quantitative",
              "scale": {"domain": [0, 72], "nice": false, "zero": false},
              "axis": {
                "orient": "bottom", "title": null,
                "values": [0, 6, 12, 18, 24, 30, 36, 42, 48, 54, 60, 66, 72],
                "labelExpr": "format(15 + floor(datum.value / 24), 'd') + '/' + format(datum.value % 24, '02d') + ':00'",
                "labelPadding": 12, "labelFlush": false, "labelOverlap": false
              }
            },
            "y": {
              "field": "watts", "type": "quantitative",
              "scale": {"domain": [0, 2500], "nice": false},
              "axis": {
                "title": "Power (W)", "format": "d",
                "values": [0, 500, 1000, 1500, 2000, 2500],
                "labelPadding": 15, "titlePadding": 4, "labelOverlap": false
              }
            }
          }
        },
        {
          "mark": {"type": "line", "opacity": 0},
          "encoding": {
            "x": {
              "field": "hour", "type": "quantitative",
              "axis": {"orient": "top", "title": null, "labels": false, "grid": false,
                       "values": [0, 6, 12, 18, 24, 30, 36, 42, 48, 54, 60, 66, 72]}
            },
            "y": {
              "field": "watts", "type": "quantitative",
              "axis": {"orient": "right", "title": null, "labels": false, "grid": false,
                       "values": [0, 500, 1000, 1500, 2000, 2500]}
            }
          }
        }
      ],
      "resolve": {"axis": {"x": "independent", "y": "independent"}}
    }
  ]
}
